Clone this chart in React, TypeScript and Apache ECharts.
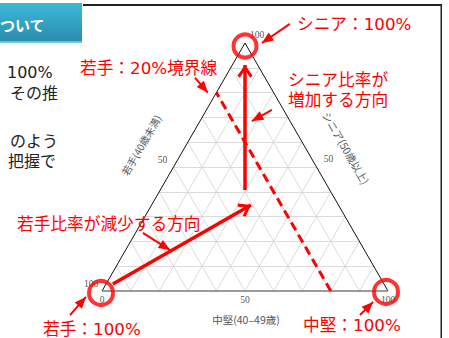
import React, { useEffect, useRef } from "react";
import * as echarts from "echarts";

// ---- data ----
const H = Math.sqrt(3) / 2;
const gridTicks = [10, 20, 30, 40, 50, 60, 70, 80, 90];
const wakateTickLabels = [50, 100]; // left edge (若手)
const seniorTickLabels = [50, 100]; // right edge (シニア)
const chukenTickLabels = [0, 50, 100]; // base (中堅)
const boundaryWakate = 20; // 若手 20% boundary
// vertices as [シニア, 中堅]
const vertexShares: [number, number][] = [
  [100, 0],
  [0, 0],
  [0, 100],
];
const axisTitles = ["若手(40歳未満)", "シニア(50歳以上)", "中堅(40–49歳)"];
const sideLines = ["100%", "その推", "のよう", "把握で"];
const headerText = "ついて";
const calloutTexts = [
  "シニア：100%",
  "若手：20%境界線",
  "シニア比率が",
  "増加する方向",
  "若手比率が減少する方向",
  "若手：100%",
  "中堅：100%",
];
// big direction arrows, [x, heightFraction]
const bigArrowPts: [number, number][][] = [
  [
    [0.5, 0.407],
    [0.5, 0.911],
  ],
  [
    [0.038, 0.028],
    [0.521, 0.347],
  ],
];
// callout pointer arrows, [x, heightFraction]
const pointerPts: [number, number][][] = [
  [
    [0.657, 1.077],
    [0.559, 1.0],
  ],
  [
    [0.325, 0.86],
    [0.37, 0.8],
  ],
  [
    [0.594, 0.73],
    [0.524, 0.685],
  ],
  [
    [0.143, 0.234],
    [0.238, 0.165],
  ],
  [
    [-0.112, -0.097],
    [-0.056, -0.024],
  ],
  [
    [0.902, -0.097],
    [0.948, -0.044],
  ],
];

const RED = "#ff0000";

function tern(s: number, c: number): [number, number] {
  return [c / 100 + s / 200, (s / 100) * H];
}
function pt(p: [number, number]): [number, number] {
  return [p[0], p[1] * H];
}

const CHEVRON =
  "path://M0,0 L7.6,10.6 L5.2,12.6 L0,4.8 L-5.2,12.6 L-7.6,10.6 Z M-13,-13 M13,13";
const TRI = "path://M0,0 L4.8,11.5 L-4.8,11.5 Z M-12,-12 M12,12";

export default function App() {
  const ref = useRef<HTMLDivElement>(null);
  useEffect(() => {
    if (!ref.current) return;
    const chart = echarts.init(ref.current, undefined, { renderer: "svg" });

    const gridLines: any[] = [];
    gridTicks.forEach((t) => {
      gridLines.push({ coords: [tern(t, 0), tern(t, 100 - t)] });
      gridLines.push({ coords: [tern(0, t), tern(100 - t, t)] });
      gridLines.push({ coords: [tern(0, 100 - t), tern(100 - t, 0)] });
    });

    const tickData: any[] = [];
    wakateTickLabels.forEach((v) =>
      tickData.push({ value: tern(100 - v, 0), name: String(v), label: { offset: [-11, -7] } })
    );
    seniorTickLabels.forEach((v) =>
      tickData.push({ value: tern(v, 100 - v), name: String(v), label: { offset: [12, -8] } })
    );
    chukenTickLabels.forEach((v) =>
      tickData.push({ value: tern(0, v), name: String(v), label: { offset: [0, 9] } })
    );

    const circleOffsets = [
      [0, 3],
      [-1, 2],
      [-2, 1],
    ];
    const circleData = vertexShares.map((v, i) => ({
      value: tern(v[0], v[1]),
      symbolOffset: circleOffsets[i],
      symbolSize: i === 0 ? 23 : 24,
    }));

    const redFont = "'DejaVu Sans', 'Noto Sans CJK JP', sans-serif";
    const calloutPos = [
      [297, 24],
      [80, 68],
      [288, 80],
      [288, 100],
      [17, 224],
      [43, 329],
      [303, 325],
    ];
    const calloutGraphics = calloutTexts.map((t, i) => ({
      type: "text",
      x: calloutPos[i][0],
      y: calloutPos[i][1],
      z: 20,
      style: {
        text: t,
        fill: RED,
        font: `16.7px ${redFont}`,
        align: "left",
        verticalAlign: "middle",
      },
    }));

    const sidePos = [
      [7, 72],
      [10, 93],
      [10, 141],
      [8, 161],
    ];
    const sideGraphics = sideLines.map((t, i) => ({
      type: "text",
      x: sidePos[i][0],
      y: sidePos[i][1],
      style: {
        text: t,
        fill: "#222",
        font: `16px ${redFont}`,
        align: "left",
        verticalAlign: "middle",
      },
    }));

    const titleFont = "'Noto Sans CJK JP', sans-serif";
    const linesBase = {
      type: "lines",
      coordinateSystem: "cartesian2d",
      silent: true,
      clip: false,
    };

    chart.setOption({
      animation: false,
      backgroundColor: "#ffffff",
      grid: { left: 102, right: 61, top: 43, bottom: 47 },
      xAxis: { type: "value", min: 0, max: 1, show: false },
      yAxis: { type: "value", min: 0, max: H, show: false },
      series: [
        {
          ...linesBase,
          z: 1,
          lineStyle: { color: "#d2d2d2", width: 0.8, opacity: 1 },
          data: gridLines,
        },
        {
          ...linesBase,
          z: 2,
          lineStyle: { color: "#111", width: 1, opacity: 1 },
          data: [
            { coords: [tern(0, 0), tern(100, 0)] },
            { coords: [tern(100, 0), tern(0, 100)] },
          ],
        },
        {
          ...linesBase,
          z: 2,
          lineStyle: { color: "#7a7a7a", width: 1.5, opacity: 1 },
          data: [{ coords: [tern(0, 0), tern(0, 100)] }],
        },
        {
          ...linesBase,
          z: 3,
          lineStyle: { color: RED, width: 3, type: [9, 5], opacity: 1 },
          data: [
            {
              coords: [
                tern(0, 100 - boundaryWakate),
                tern(100 - boundaryWakate, 0),
              ],
            },
          ],
        },
        {
          ...linesBase,
          z: 4,
          symbol: ["none", CHEVRON],
          symbolSize: 26,
          lineStyle: { color: RED, width: 3.5, opacity: 1 },
          data: bigArrowPts.map((a) => ({ coords: a.map(pt) })),
        },
        {
          ...linesBase,
          z: 6,
          symbol: ["none", TRI],
          symbolSize: 24,
          lineStyle: { color: RED, width: 2, opacity: 1 },
          data: pointerPts.map((a) => ({ coords: a.map(pt) })),
        },
        {
          type: "scatter",
          silent: true,
          clip: false,
          z: 5,
          symbol: "circle",
          itemStyle: { color: "rgba(0,0,0,0)", borderColor: RED, borderWidth: 4 },
          data: circleData,
        },
        {
          type: "scatter",
          silent: true,
          clip: false,
          z: 3,
          symbolSize: 1,
          itemStyle: { color: "rgba(0,0,0,0)" },
          label: {
            show: true,
            position: "inside",
            formatter: (p: any) => p.name,
            color: "#222",
            fontFamily: "'Liberation Serif', serif",
            fontSize: 9.5,
          },
          data: tickData,
        },
      ],
      graphic: [
        {
          type: "rect",
          shape: { x: 0, y: 3, width: 82, height: 40 },
          style: {
            fill: new echarts.graphic.LinearGradient(0, 0, 0, 1, [
              { offset: 0, color: "#3db9da" },
              { offset: 1, color: "#2a8bab" },
            ]),
          },
        },
        {
          type: "rect",
          shape: { x: 0, y: 41, width: 82, height: 2 },
          style: { fill: "#6cc4dc" },
        },
        {
          type: "text",
          x: 0,
          y: 24,
          style: {
            text: headerText,
            fill: "#ffffff",
            font: `bold 15px 'Noto Sans CJK JP', sans-serif`,
            align: "left",
            verticalAlign: "middle",
          },
        },
        {
          type: "rect",
          shape: { x: 83, y: 4, width: 359, height: 2 },
          style: { fill: "#222" },
        },
        {
          type: "rect",
          shape: { x: 440.5, y: 4, width: 1.5, height: 334 },
          style: { fill: "#222" },
        },
        ...sideGraphics,
        {
          type: "text",
          x: 141,
          y: 145,
          rotation: Math.PI / 3,
          style: {
            text: axisTitles[0],
            fill: "#555",
            font: `10px ${titleFont}`,
            align: "center",
            verticalAlign: "middle",
          },
        },
        {
          type: "text",
          x: 346,
          y: 148,
          rotation: -Math.PI / 3,
          style: {
            text: axisTitles[1],
            fill: "#555",
            font: `10.5px ${titleFont}`,
            align: "center",
            verticalAlign: "middle",
          },
        },
        {
          type: "text",
          x: 246,
          y: 319,
          style: {
            text: axisTitles[2],
            fill: "#555",
            font: `10.5px ${titleFont}`,
            align: "center",
            verticalAlign: "middle",
          },
        },
        ...calloutGraphics,
      ],
    });
    return () => chart.dispose();
  }, []);
  return (
    <div
      ref={ref}
      style={{ position: "absolute", left: 0, top: 0, width: 449, height: 338 }}
    />
  );
}
